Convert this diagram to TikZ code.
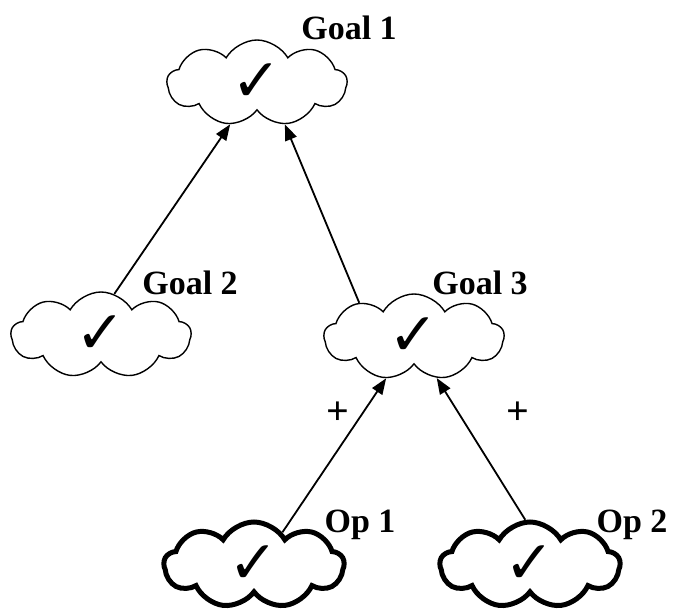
\documentclass[tikz,border=0pt]{standalone}
\usepackage{fontspec}
\setmainfont{Liberation Serif}
\newfontfamily\symfont{DejaVu Sans}
\usetikzlibrary{shapes.symbols,arrows.meta}
\begin{document}
\begin{tikzpicture}[x=1pt,y=-1pt,
  goalcloud/.style={cloud, cloud puffs=9, cloud puff arc=120, aspect=2.1,
    draw, line width=1.4pt, minimum width=180pt, minimum height=86pt, inner sep=0pt,
    font=\symfont\fontsize{60}{60}\selectfont},
  opcloud/.style={goalcloud, line width=5pt},
  lbl/.style={font=\bfseries\fontsize{34}{34}\selectfont, inner sep=0pt},
  sign/.style={font=\bfseries\fontsize{40}{40}\selectfont, inner sep=0pt},
  link/.style={line width=1.8pt, -{Triangle[length=16pt,width=12pt]}}]
  \useasboundingbox (0,0) rectangle (673,612);
  % clouds, each holding a tick
  \node[goalcloud] (g1) at (257,83) {✓};
  \node[goalcloud] (g2) at (101,335) {✓};
  \node[goalcloud] (g3) at (414,337) {✓};
  \node[opcloud] (o1) at (254,565) {✓};
  \node[opcloud] (o2) at (530,565) {✓};
  % names
  \node[lbl] (t1) at (349,28) {Goal 1};
  \node[lbl] (t2) at (190,283) {Goal 2};
  \node[lbl] (t3) at (480,283) {Goal 3};
  \node[lbl] (t4) at (360,525) {Op 1};
  \node[lbl] (t5) at (632,525) {Op 2};
  % contributions
  \node[sign] (p1) at (338,413) {+};
  \node[sign] (p2) at (518,413) {+};
  \draw[link] (g2.72) -- (g1.-123);
  \draw[link] (g3.148) -- (g1.-56);
  \draw[link] (o1.49) -- (g3.-124);
  \draw[link] (o2.96) -- (g3.-61);
\end{tikzpicture}
\end{document}
